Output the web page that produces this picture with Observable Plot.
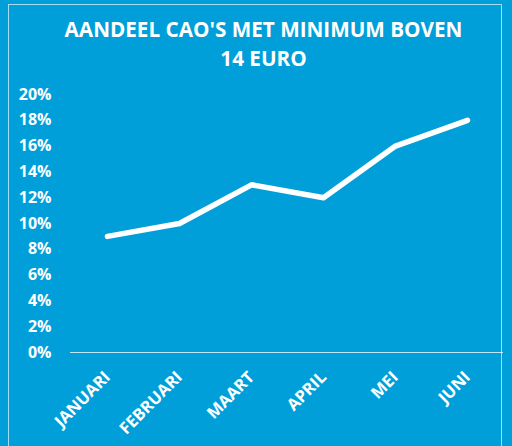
<!DOCTYPE html>
<html>
<head>
<meta charset="utf-8">
<script src="https://cdn.jsdelivr.net/npm/d3@7"></script>
<script src="https://cdn.jsdelivr.net/npm/@observablehq/plot@0.6"></script>
<style>
  html, body { margin: 0; padding: 0; background: #009FDA; }
  #wrap { position: relative; width: 512px; height: 446px; overflow: hidden; background: #009FDA; }
  #frame { position: absolute; left: 8px; top: 4px; width: 494px; height: 460px; border: 1px solid rgba(255,255,255,0.65); box-sizing: border-box; }
  .title { position: absolute; left: 0; width: 527px; text-align: center; color: #fff; font-family: "Open Sans", sans-serif; font-weight: 700; font-size: 20.7px; line-height: 22px; }
  #chart { position: absolute; left: 0; top: 0; }
</style>
</head>
<body>
<div id="wrap">
  <div id="frame"></div>
  <div class="title" style="top:18px">AANDEEL CAO'S MET MINIMUM BOVEN</div>
  <div class="title" style="top:47px">14 EURO</div>
  <div id="chart"></div>
</div>
<script>
const months = ["JANUARI", "FEBRUARI", "MAART", "APRIL", "MEI", "JUNI"];
const shares = [0.09, 0.10, 0.13, 0.12, 0.16, 0.18];
const yTicks = [0, 0.02, 0.04, 0.06, 0.08, 0.10, 0.12, 0.14, 0.16, 0.18, 0.20];

const data = months.map((m, i) => ({month: m, share: shares[i]}));

const plot = Plot.plot({
  width: 512,
  height: 446,
  marginLeft: 70,
  marginRight: 9,
  marginTop: 94,
  marginBottom: 94,
  style: {background: "transparent", color: "#fff", fontFamily: "'Open Sans', sans-serif", fontWeight: 700, fontSize: "16px"},
  x: {type: "point", domain: months, padding: 0.5, label: null},
  y: {domain: [0, 0.2], label: null},
  marks: [
    Plot.axisY({ticks: yTicks, tickFormat: d => Math.round(d * 100) + "%", tickSize: 0, tickPadding: 19, label: null, fontSize: 16, fontWeight: 700}),
    Plot.axisX({tickSize: 0, tickPadding: 22, tickRotate: -45, label: null, fontSize: 16.5, fontWeight: 700}),
    Plot.ruleY([0], {stroke: "rgba(255,255,255,0.75)", strokeWidth: 1}),
    Plot.line(data, {x: "month", y: "share", stroke: "#fff", strokeWidth: 5.5, strokeLinecap: "round", strokeLinejoin: "round"})
  ]
});
document.getElementById("chart").appendChild(plot);
</script>
</body>
</html>
